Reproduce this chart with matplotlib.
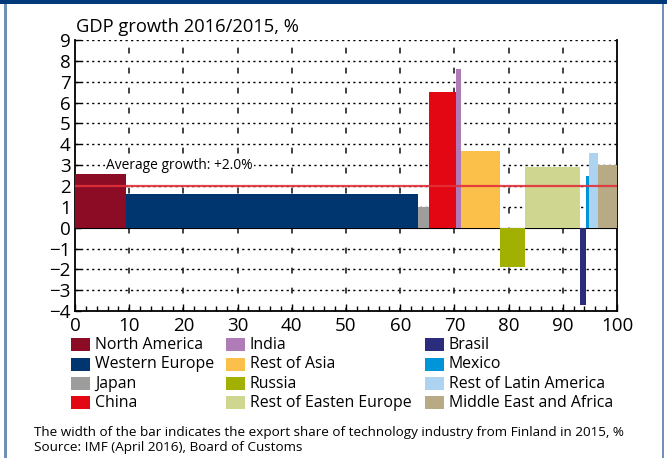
import numpy as np
import matplotlib
matplotlib.use("Agg")
import matplotlib.pyplot as plt
from matplotlib.patches import Rectangle

plt.rcParams['font.family'] = ['Open Sans', 'DejaVu Sans']

# ---- data ----
regions = ["North America", "Western Europe", "Japan", "China", "India",
           "Rest of Asia", "Russia", "Rest of Easten Europe", "Brasil",
           "Mexico", "Rest of Latin America", "Middle East and Africa"]
export_share = [9.5, 53.7, 2.1, 5.0, 1.0, 7.2, 4.5, 10.2, 1.0, 0.6, 1.7, 3.5]
gdp_growth = [2.6, 1.6, 1.0, 6.5, 7.6, 3.7, -1.9, 2.9, -3.7, 2.5, 3.6, 3.0]
colors = ["#8c0b25", "#003670", "#9d9d9c", "#e30613", "#b07cb8", "#fbc04a",
          "#a2b101", "#cfd690", "#2b2c7c", "#0095d9", "#acd4f1", "#b8aa84"]
average_growth = 2.0
x_ticks = [0, 10, 20, 30, 40, 50, 60, 70, 80, 90, 100]
y_ticks = [-4, -3, -2, -1, 0, 1, 2, 3, 4, 5, 6, 7, 8, 9]

W, H = 667, 458
fig = plt.figure(figsize=(W / 100, H / 100), dpi=100)

def fx(px):
    return px / W

def fy(py):
    return 1 - py / H

# frame decorations
fig.add_artist(Rectangle((0, fy(4)), 1, 4 / H, transform=fig.transFigure,
                         color="#003a78", lw=0))
fig.add_artist(Rectangle((fx(4), 0), 2.5 / W, fy(4), transform=fig.transFigure,
                         color="#7090b8", lw=0))
fig.add_artist(Rectangle((fx(661.5), 0), 2.5 / W, fy(4), transform=fig.transFigure,
                         color="#7090b8", lw=0))

ax = fig.add_axes([fx(75), fy(311.2), fx(617) - fx(75), fy(40) - fy(311.2)])

lefts = np.concatenate([[0], np.cumsum(export_share)[:-1]])
ax.bar(lefts, gdp_growth, width=export_share, align='edge', color=colors,
       linewidth=0, zorder=3)

ax.set_xlim(0, 100)
ax.set_ylim(-4, 9)

# grid
for yv in y_ticks:
    if yv in (-4, 0):
        continue
    ax.axhline(yv, color="black", lw=1.0, linestyle=(0, (1.6, 2.4)), zorder=1)
for xv in x_ticks[1:-1]:
    ax.axvline(xv, color="#222222", lw=1.2, linestyle=(1.5, (3.5, 8.5)), zorder=1)
ax.axhline(0, color="black", lw=0.8, zorder=2)

# average line
ax.axhline(average_growth, color="#e2323a", lw=1.6, alpha=0.9, zorder=4)
ax.text(5.8, 3.0, "Average growth: +2.0%", fontsize=9.9, va='center', ha='left',
        bbox=dict(facecolor='white', edgecolor='none', pad=1.0), zorder=5)

for s in ['left', 'bottom', 'right']:
    ax.spines[s].set_linewidth(1.3)
    ax.spines[s].set_color('black')
ax.spines['top'].set_visible(False)

ax.set_xticks(x_ticks)
ax.set_xticks(np.arange(0, 101, 2), minor=True)
ax.set_yticks(y_ticks)
ax.tick_params(axis='both', which='major', direction='in', length=4, width=1,
               labelsize=13.5, pad=3)
ax.tick_params(axis='x', which='major', length=5, pad=4)
ax.tick_params(axis='x', which='minor', direction='in', length=3.5, width=1)

# title
fig.text(fx(76), fy(31.7), "GDP growth 2016/2015, %", fontsize=13.2,
         ha='left', va='baseline')

# legend (manual)
col_x = [71, 226, 425]
row_y = [344.7, 364.0, 383.3, 402.6]
for i, (lab, c) in enumerate(zip(regions, colors)):
    col, row = divmod(i, 4)
    x0 = col_x[col]
    yc = row_y[row]
    fig.add_artist(Rectangle((fx(x0), fy(yc + 6.5)), 19 / W, 13 / H,
                             transform=fig.transFigure, color=c, lw=0))
    fig.text(fx(x0 + 24), fy(yc + 0.5), lab, fontsize=11.4, ha='left', va='center')

# footnote
fig.text(fx(34), fy(435.7),
         "The width of the bar indicates the export share of technology industry from Finland in 2015, %",
         fontsize=9.7, ha='left', va='baseline')
fig.text(fx(34), fy(451.3), "Source: IMF (April 2016), Board of Customs",
         fontsize=9.7, ha='left', va='baseline')

fig.savefig("out.png", dpi=100)
